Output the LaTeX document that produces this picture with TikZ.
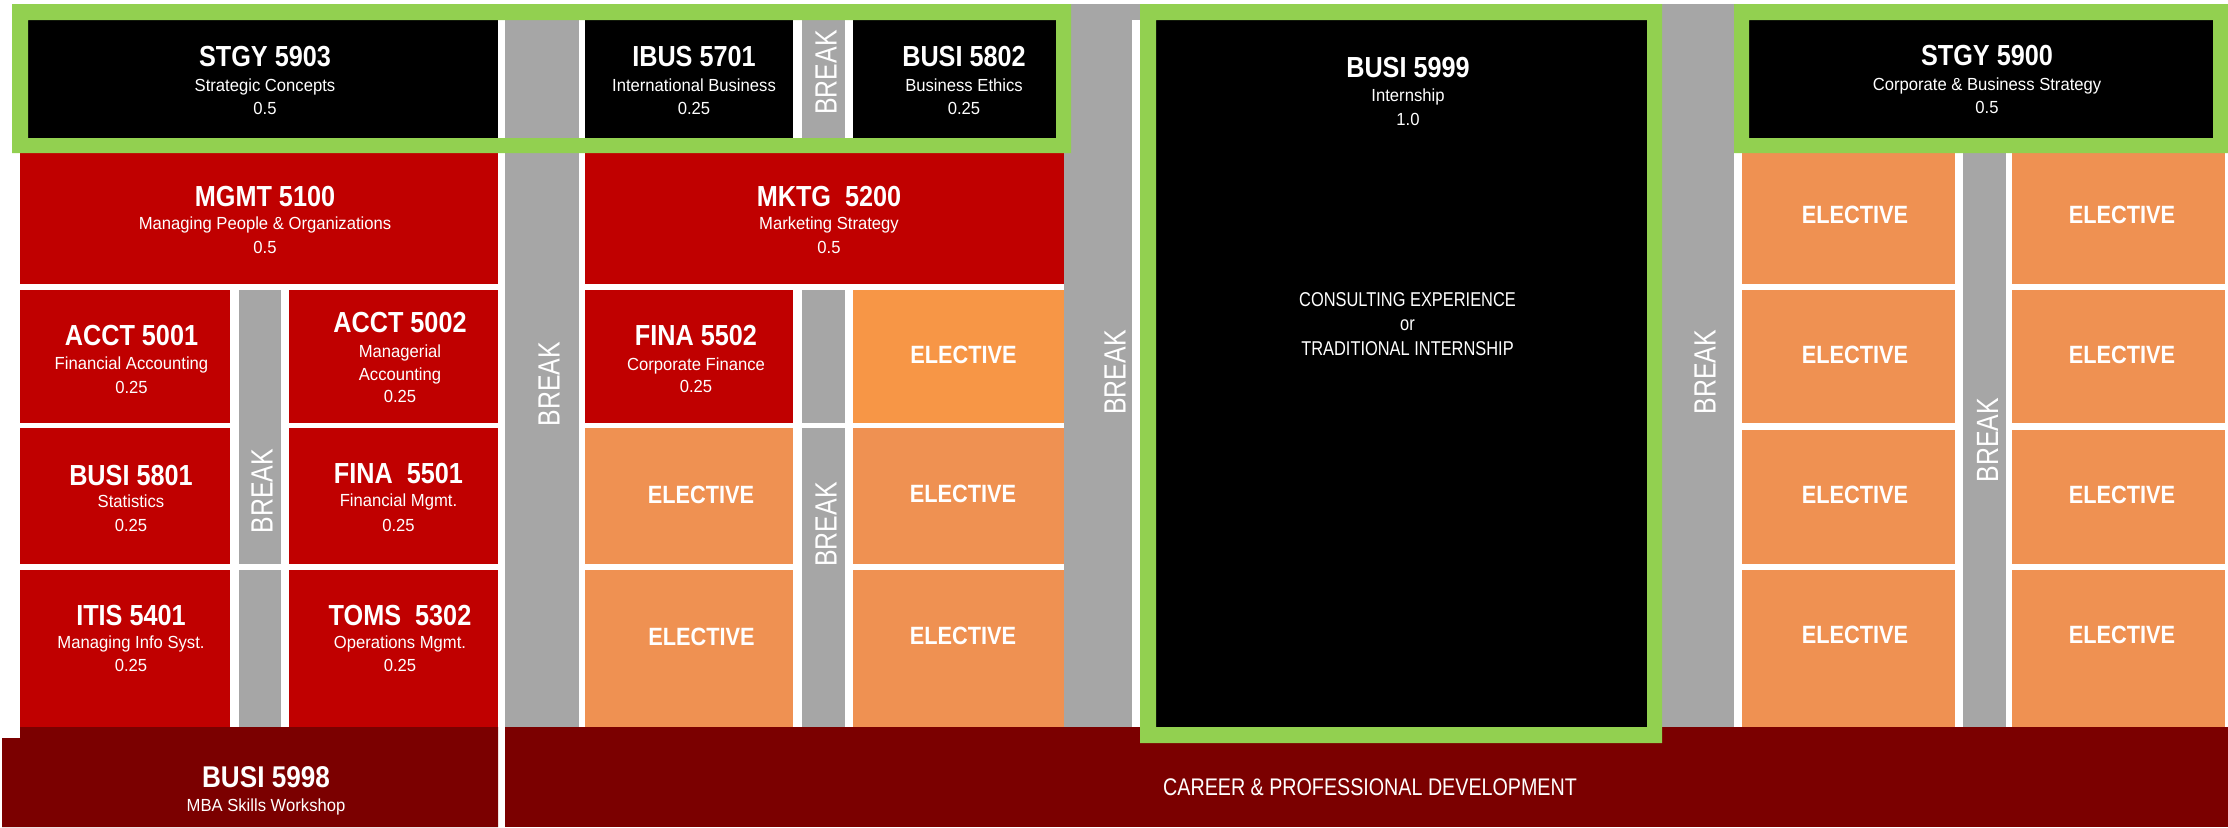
\documentclass[tikz,border=0pt]{standalone}
\usepackage{fontspec}
\setmainfont{Liberation Sans}
\newfontfamily\fTtl{Liberation Sans}[FakeStretch=0.87]
\newfontfamily\fSub{Liberation Sans}[FakeStretch=0.95]
\newfontfamily\fBrk{Liberation Sans}[FakeStretch=0.81]
\newfontfamily\fCap{Liberation Sans}[FakeStretch=0.82]
\definecolor{cgreen}{HTML}{92D050}
\definecolor{cred}{HTML}{C00000}
\definecolor{cdark}{HTML}{7B0000}
\definecolor{cgray}{HTML}{A6A6A6}
\definecolor{corange}{HTML}{F79646}
\definecolor{celect}{HTML}{EF9152}
\tikzset{
  ttl/.style={anchor=base, inner sep=0pt, text=white, font=\fTtl\bfseries\fontsize{8.25pt}{9pt}\selectfont},
  sub/.style={anchor=base, inner sep=0pt, text=white, font=\fSub\fontsize{4.98pt}{6pt}\selectfont},
  elec/.style={anchor=base, inner sep=0pt, text=white, font=\fTtl\bfseries\fontsize{7.11pt}{8pt}\selectfont},
  brk/.style={anchor=center, inner sep=0pt, rotate=90, text=white, font=\fBrk\fontsize{8.73pt}{9pt}\selectfont},
  captext/.style={anchor=base, inner sep=0pt, text=white, font=\fCap\fontsize{5.69pt}{6pt}\selectfont},
}
\newcommand\crs[8]{%
  \node[ttl] (#1-t) at (#2,#3) {#6};
  \node[sub] (#1-s) at (#2,#4) {#7};
  \node[sub] (#1-n) at (#2,#5) {#8};}
\begin{document}
\begin{tikzpicture}[x=0.01cm,y=-0.01cm]
\useasboundingbox (0,0) rectangle (2228,827);
\fill[white] (0,0) rectangle (2228,827);
% gray columns
\fill[cgray] (505,20) rectangle (579,727);
\fill[cgray] (1064,4) rectangle (1140,727);
\fill[white] (1132,20) rectangle (1140,727);
\fill[cgray] (1662,4) rectangle (1734,727);
\fill[cgray] (802,20) rectangle (845,138);
\fill[cgray] (802,290) rectangle (845,423);
\fill[cgray] (802,428) rectangle (845,727);
\fill[cgray] (239,290) rectangle (281,564);
\fill[cgray] (239,570) rectangle (281,727);
\fill[cgray] (1963,153) rectangle (2006,727);
% top black boxes
\fill[black] (28,20) rectangle (498,138);
\fill[black] (585,20) rectangle (793,138);
\fill[black] (853,20) rectangle (1056,138);
\fill[black] (1749,20) rectangle (2213,138);
% red boxes
\fill[cred] (20,153) rectangle (498,284);
\fill[cred] (585,153) rectangle (1064,284);
\fill[cred] (20,290) rectangle (230,423);
\fill[cred] (289,290) rectangle (498,423);
\fill[cred] (20,428) rectangle (230,564);
\fill[cred] (289,428) rectangle (498,564);
\fill[cred] (20,570) rectangle (230,727);
\fill[cred] (289,570) rectangle (498,727);
\fill[cred] (585,290) rectangle (793,423);
% electives
\fill[corange] (853,290) rectangle (1064,423);
\fill[celect] (585,428) rectangle (793,564);
\fill[celect] (853,428) rectangle (1064,564);
\fill[celect] (585,570) rectangle (793,727);
\fill[celect] (853,570) rectangle (1064,727);
\foreach \ya/\yb in {153/284,290/423,430/564,570/727}{
  \fill[celect] (1742,\ya) rectangle (1955,\yb);
  \fill[celect] (2012,\ya) rectangle (2225,\yb);
}
% bottom bands
\fill[cdark] (2,738) -- (20,738) -- (20,727) -- (498,727) -- (498,827) -- (2,827) -- cycle;
\fill[cdark] (505,727) rectangle (2228,827);
% internship box
\fill[black] (1156,20) rectangle (1647,727);
% green frames
\fill[cgreen, even odd rule] (12,4) rectangle (1071,153) (28,20) rectangle (1056,138);
\fill[cgreen, even odd rule] (1140,4) rectangle (1662,743) (1156,20) rectangle (1647,727);
\fill[cgreen, even odd rule] (1734,4) rectangle (2228,153) (1749,20) rectangle (2213,138);
% course texts
\crs{stgy3}{265}{66}{91.7}{114.3}{STGY 5903}{Strategic Concepts}{0.5}
\crs{ibus}{694}{66}{91.7}{114.3}{IBUS 5701}{International Business}{0.25}
\crs{busi2}{964}{66}{91.7}{114.3}{BUSI 5802}{Business Ethics}{0.25}
\crs{mgmt}{265}{206.7}{229.3}{253.3}{MGMT 5100}{Managing People \& Organizations}{0.5}
\crs{mktg}{829}{206.7}{229.3}{253.3}{MKTG\ \ 5200}{Marketing Strategy}{0.5}
\crs{acct1}{131.5}{345}{369}{393}{ACCT 5001}{Financial Accounting}{0.25}
\node[ttl] (acct2-t) at (400,332) {ACCT 5002};
\node[sub] (acct2-s) at (400,357) {Managerial};
\node[sub] (acct2-s2) at (400,380) {Accounting};
\node[sub] (acct2-n) at (400,402.5) {0.25};
\crs{fina2}{696}{345}{370.7}{392.7}{FINA 5502}{Corporate Finance}{0.25}
\crs{busi1}{131}{485}{507}{531.7}{BUSI 5801}{Statistics}{0.25}
\crs{fina1}{398.5}{483.3}{506}{531.7}{FINA\ \ 5501}{Financial Mgmt.}{0.25}
\crs{itis}{131}{625}{648.7}{671.7}{ITIS 5401}{Managing Info Syst.}{0.25}
\crs{toms}{400}{625}{648.7}{671.7}{TOMS\ \ 5302}{Operations Mgmt.}{0.25}
\crs{busi9}{1408}{77.3}{101.7}{125}{BUSI 5999}{Internship}{1.0}
\crs{stgy0}{1987}{65}{90}{113.3}{STGY 5900}{Corporate \& Business Strategy}{0.5}
\node[ttl, font=\fTtl\bfseries\fontsize{8.54pt}{9pt}\selectfont] (busi8-t) at (266,787) {BUSI 5998};
\node[sub] (busi8-s) at (266,811) {MBA Skills Workshop};
% consulting
\node[captext] (cons1) at (1407.5,306) {CONSULTING EXPERIENCE};
\node[captext] (cons2) at (1407.5,330) {or};
\node[captext] (cons3) at (1407.5,355) {TRADITIONAL INTERNSHIP};
\node[captext, font=\fCap\fontsize{6.83pt}{7pt}\selectfont] (career) at (1370,795) {CAREER \& PROFESSIONAL DEVELOPMENT};
% electives
\node[elec] (em1) at (963.5,363) {ELECTIVE};
\node[elec] (em2) at (701,503.5) {ELECTIVE};
\node[elec] (em3) at (963,502.5) {ELECTIVE};
\node[elec] (em4) at (701.5,645) {ELECTIVE};
\node[elec] (em5) at (963,644) {ELECTIVE};
\node[elec] (rl1) at (1855,223) {ELECTIVE};
\node[elec] (rr1) at (2122,223) {ELECTIVE};
\node[elec] (rl2) at (1855,363) {ELECTIVE};
\node[elec] (rr2) at (2122,363) {ELECTIVE};
\node[elec] (rl3) at (1855,503) {ELECTIVE};
\node[elec] (rr3) at (2122,503) {ELECTIVE};
\node[elec] (rl4) at (1855,643) {ELECTIVE};
\node[elec] (rr4) at (2122,643) {ELECTIVE};
% breaks
\node[brk] (br1) at (826,72.5) {BREAK};
\node[brk] (br2) at (549,384) {BREAK};
\node[brk] (br3) at (262,491) {BREAK};
\node[brk] (br4) at (826,524.5) {BREAK};
\node[brk] (br5) at (1115,372.5) {BREAK};
\node[brk] (br6) at (1705,372) {BREAK};
\node[brk] (br7) at (1987.5,440) {BREAK};
\end{tikzpicture}
\end{document}
